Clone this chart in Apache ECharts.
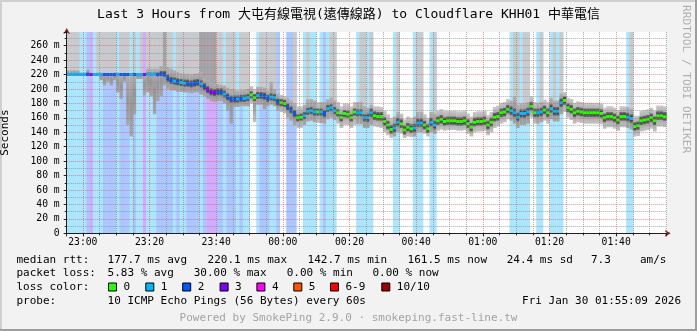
<!DOCTYPE html>
<html><head><meta charset="utf-8">
<script src="https://cdn.jsdelivr.net/npm/echarts@6/dist/echarts.min.js"></script>
<style>html,body{margin:0;padding:0;background:#f2f2f2}#c{width:697px;height:331px}</style>
</head><body><div id="c"></div>
<script>
// ---- data (x in minutes after 22:00, one column per minute starting 22:55) ----
const startMin = 55 + 9/60;      // 22:55:09
const endMin = startMin + 180;   // 01:55:09
const firstColumnMin = 55;       // 22:55
const yMax = 279;

const lossCount = [
 1,1,1,1,1,1,2,3,1,1,1,2,2,2,2,1,2,2,2,1,2,1,1,3,1,1,1,2,2,2,
 2,2,1,2,1,1,2,2,2,2,1,2,3,3,3,2,2,1,2,2,2,1,2,1,1,0,0,1,2,2,
 2,1,1,2,0,0,2,2,2,0,0,1,1,1,1,0,1,2,1,1,1,0,0,0,0,0,0,1,1,1,
 1,1,0,0,0,0,0,0,1,1,0,0,0,0,1,1,1,0,0,1,1,0,0,0,0,0,0,0,0,0,
 0,0,0,0,0,0,0,0,0,0,0,0,0,1,1,1,1,1,1,0,0,1,1,0,0,1,1,1,1,0,
 0,0,0,0,0,0,0,0,0,0,0,0,0,0,0,0,0,0,1,1,0,0,0,0,0,0,0,0,0,0];

const medianMs = [
 220.1,220.1,220.0,220.1,220.0,220.1,220.1,220.0,220.0,220.1,220.1,220.0,220.0,220.1,220.0,220.0,220.1,220.0,220.0,220.1,220.0,220.0,220.0,220.1,220.0,220.1,220.0,219.9,220.0,219.5,
 215,212,211,210,209,208,208,207,208,209,207,203,199,196,195,196,196,193,189,186,186,186,187,187,188,192,188,191,191,190,
 187,189,188,182,181,180,175,171,166,160,161,163,169,170,168,168,168,166,173,174,170,167,160,166,165,160,168,167,167,160,
 160,167,163,162,162,155,150,144,146,154,152,143,147,145,146,153,153,150,145,154,150,156,158,155,156,156,156,155,155,156,
 152,147,154,155,155,156,150,154,161,162,167,168,172,170,167,161,166,166,168,176,167,167,168,171,167,173,169,169,181,184,
 174,172,167,169,168,167,167,167,167,167,166,160,162,162,160,157,162,162,161,159,148,149,156,157,158,160,156,163,163,161.5];

// fastest and slowest ping of each minute
const smokeLow = [
 218,218,218,218,218,218,218,218,218,218,212,205,210,205,212,195,186,210,150,134,165,214,214,191,195,190,165,183,190,205,
 200,198,198,196,196,195,195,194,195,195,192,190,186,183,182,183,183,180,170,152,175,175,176,176,176,180,154,178,178,172,
 176,178,176,170,168,166,160,156,150,146,146,150,155,156,154,153,153,152,158,160,157,152,146,150,150,146,150,151,151,146,
 146,150,148,147,146,140,136,132,134,140,138,132,134,133,134,140,140,138,134,140,138,142,144,142,143,143,143,142,142,143,
 138,134,140,141,141,142,136,140,146,148,152,154,158,156,152,146,150,150,152,160,152,152,154,156,152,158,155,155,165,168,
 160,157,152,154,153,152,152,152,152,152,151,145,147,147,145,142,147,147,146,144,134,135,141,142,143,145,141,148,148,147];

const smokeHigh = [
 226,226,226,226,223,223,227,222,222,223,223,221,221,221,223,223,221,221,221,221,221,221,221,221,228,228,228,228,232,232,
 230,228,226,224,222,221,221,220,221,222,224,215,212,210,208,207,206,205,202,200,199,198,199,199,200,204,200,203,203,202,
 198,210,200,194,192,190,188,184,180,176,176,178,186,186,184,182,182,182,186,188,184,182,176,180,180,176,182,182,182,176,
 174,178,176,176,175,170,165,160,162,168,166,158,162,160,162,168,168,165,160,168,166,170,172,170,170,170,170,169,169,170,
 166,162,168,169,169,170,164,168,175,177,181,182,186,184,190,178,180,180,182,190,182,181,182,185,182,188,184,184,194,196,
 188,186,181,183,182,181,181,181,181,181,180,174,176,176,174,171,176,176,175,173,163,163,170,171,172,174,170,177,177,176];

// 3rd fastest and 3rd slowest ping of each minute
const innerLow = [
 218.5,218.5,218.4,218.5,218.4,218.5,218.5,218.4,218.4,218.5,218.5,218.4,218.2,218.5,218.4,218.4,218.5,218.4,218.4,218.5,218.4,218.4,218.4,218.5,218.4,218.5,218.4,218.2,218.3,217.5,
 210,207,206,205,204,203,203,202,203,204,202,198,194,191,190,191,191,188,184,181,181,181,182,182,183,187,183,186,186,185,
 182,184,183,177,176,175,170,166,161,155,156,158,164,165,163,163,163,161,168,169,165,162,155,161,160,155,163,162,162,155,
 154,161,157,156,156,149,144,138,140,148,146,137,141,139,140,147,147,144,139,148,144,150,152,149,150,150,150,149,149,150,
 146,141,148,149,149,150,144,148,155,156,161,162,166,164,161,155,160,160,162,170,161,161,162,165,161,167,163,163,175,178,
 168,166,161,163,162,161,161,161,161,161,160,154,156,156,154,151,156,156,155,153,142,143,150,151,152,154,150,157,157,156];

const innerHigh = [
 222,222,221.8,222,221.8,222,223,221.8,221.8,222,222,221.8,221.8,222,221.8,221.8,222,221.8,221.8,222,221.8,221.8,221.8,222,223,223,223,223,225,225,
 220,217,216,215,214,213,213,212,213,214,212,208,204,201,200,201,201,198,194,191,191,191,192,192,193,197,193,196,196,195,
 192,194,193,187,186,185,180,176,171,165,166,168,174,175,173,173,173,171,178,179,175,172,165,171,170,165,173,172,172,165,
 166,173,169,168,168,161,156,150,152,160,158,149,153,151,152,159,159,156,151,160,156,162,164,161,162,162,162,161,161,162,
 158,153,160,161,161,162,156,160,167,168,173,174,178,176,173,167,172,172,174,182,173,173,174,177,173,179,175,175,187,190,
 180,178,173,175,174,173,173,173,173,173,172,166,168,168,166,163,168,168,167,165,154,155,162,163,164,166,162,169,169,168];

// pings above the graph ceiling (smoke reaching the top): 0 none, 1..3 shade level
const slowToTop = [
 1,1,1,1,0,0,0,0,0,1,1,1,1,1,1,0,1,1,1,0,1,0,1,0,1,1,1,1,1,2,
 1,1,0,1,1,1,1,1,1,1,2,2,2,2,2,1,1,0,1,1,1,0,1,1,1,0,0,0,1,1,
 1,1,1,0,0,0,0,0,1,0,0,0,1,0,0,0,0,0,0,1,1,0,0,0,0,0,0,0,1,1,
 0,1,0,0,0,0,0,0,0,1,0,0,0,0,0,1,1,0,0,0,1,0,0,0,0,0,0,0,0,0,
 0,0,0,0,0,0,0,0,0,0,0,0,0,0,1,1,0,1,1,0,0,0,1,0,0,0,1,0,1,0,
 0,0,0,0,0,0,0,0,0,0,0,0,0,0,0,0,0,0,0,1,0,0,0,0,0,0,0,0,0,0];

const lossLegend = ['0','1','2','3','4','5','6-9','10/10'];
const lossLegendColors = ['#26ff00','#00b8ff','#0059ff','#7e00ff','#ff00ff','#ff5500','#ff0000','#a10000'];
const statLine1 = [['median rtt:',16.4],['177.7 ms avg',107.6],['220.1 ms max',207.6],['142.7 ms min',307.6],['161.5 ms now',407.6],['24.4 ms sd',506.7],['7.3',591],['am/s',640]];
const statLine2 = [['packet loss:',16.4],['5.83 % avg',107.6],['30.00 % max',193.7],['0.00 % min',286.7],['0.00 % now',372.4]];

// ---- styling ----
const MONO = "'DejaVu Sans Mono','Noto Sans CJK TC',monospace";
function lossLineColor(n){ if(n===0) return '#26ff00'; if(n<=5) return lossLegendColors[n]; if(n<10) return '#ff0000'; return '#a10000'; }
function lossBgColor(n){
  const c = lossLineColor(n);
  const r=parseInt(c.substr(1,2),16), g=parseInt(c.substr(3,2),16), b=parseInt(c.substr(5,2),16);
  const a=0.335, mix=v=>Math.round(255-(255-v)*a);
  return 'rgb('+mix(r)+','+mix(g)+','+mix(b)+')';
}
const slowShade = [null,'#cacaca','#a4a4a4','#8a8a8a'];

const rows = medianMs.map((m,i)=>[firstColumnMin+i, firstColumnMin+i+1, m, smokeLow[i], smokeHigh[i], innerLow[i], innerHigh[i], lossCount[i], slowToTop[i]]);

const outerFill = new echarts.graphic.LinearGradient(0,0,0,1,[{offset:0,color:'#cacaca'},{offset:0.5,color:'#9c9c9c'},{offset:1,color:'#c4c4c4'}]);
const outerFillLoss = new echarts.graphic.LinearGradient(0,0,0,1,[{offset:0,color:'#b0b0b0'},{offset:0.5,color:'#959595'},{offset:1,color:'#a6a6a6'}]);
const innerUp = new echarts.graphic.LinearGradient(0,0,0,1,[{offset:0,color:'#747474'},{offset:0.5,color:'#4a4a4a'},{offset:1,color:'#303030'}]);
const innerDown = new echarts.graphic.LinearGradient(0,0,0,1,[{offset:0,color:'#303030'},{offset:0.5,color:'#4a4a4a'},{offset:1,color:'#747474'}]);

function renderColumn(params, api){
  const t0 = Math.max(api.value(0), startMin), t1 = Math.min(api.value(1), endMin);
  if(t1<=t0) return null;
  const med=api.value(2), lo=api.value(3), hi=api.value(4), ilo=api.value(5), ihi=api.value(6), loss=api.value(7), slow=api.value(8);
  const a = api.coord([t0, yMax]), b = api.coord([t1, 0]);
  const x=a[0], w=b[0]-a[0]+0.45, yTop=a[1], yBase=b[1];
  const Y=v=>api.coord([t0,v])[1];
  const yMed=Y(med), yLo=Y(lo), yHi=Y(hi), yIlo=Y(ilo), yIhi=Y(ihi);
  const kids=[];
  if(loss>0) kids.push({type:'rect',shape:{x,y:yTop,width:w,height:yBase-yTop},style:{fill:lossBgColor(loss)}});
  if(slow>0) kids.push({type:'rect',shape:{x,y:yTop,width:w,height:yMed-yTop},style:{fill:slowShade[slow]}});
  kids.push({type:'rect',shape:{x,y:yHi,width:w,height:yLo-yHi},style:{fill: loss>0 ? outerFillLoss : outerFill}});
  if(yMed>yIhi) kids.push({type:'rect',shape:{x,y:yIhi,width:w,height:yMed-yIhi},style:{fill:innerUp}});
  if(yIlo>yMed) kids.push({type:'rect',shape:{x,y:yMed,width:w,height:yIlo-yMed},style:{fill:innerDown}});
  kids.push({type:'rect',shape:{x,y:yMed-1.5,width:w,height:3},style:{fill:lossLineColor(loss)}});
  return {type:'group',children:kids};
}

function fmtTime(v){
  const tot = Math.round(v);
  const h=(22+Math.floor(tot/60))%24, m=tot%60;
  return (h<10?'0':'')+h+':'+(m<10?'0':'')+m;
}

const gridColor='rgba(143,143,143,0.75)', mgridColor='rgba(222,79,79,0.6)';
const txt=(t,x,y,extra)=>({type:'text',silent:true,style:Object.assign({text:t,x,y,font:'11px '+MONO,fill:'#000',align:'left',verticalAlign:'middle',textAlign:'left',textVerticalAlign:'middle'},extra||{})});

const graphics=[];
graphics.push({type:'rect',silent:true,shape:{x:0,y:0,width:697,height:2},style:{fill:'#cfcfcf'}});
graphics.push({type:'rect',silent:true,shape:{x:0,y:0,width:2,height:331},style:{fill:'#cfcfcf'}});
graphics.push({type:'rect',silent:true,shape:{x:695,y:0,width:2,height:331},style:{fill:'#9e9e9e'}});
graphics.push({type:'rect',silent:true,shape:{x:0,y:329,width:697,height:2},style:{fill:'#9e9e9e'}});
graphics.push(txt('Last 3 Hours from 大屯有線電視(遠傳線路) to Cloudflare KHH01 中華電信',348.5,15,{font:'13px '+MONO,align:'center',textAlign:'center'}));
graphics.push({type:'text',silent:true,x:686,y:5,rotation:-Math.PI/2,style:{text:'RRDTOOL / TOBI OETIKER',x:0,y:0,font:'11.2px '+MONO,fill:'rgba(0,0,0,0.28)',align:'left',verticalAlign:'middle',textAlign:'left',textVerticalAlign:'middle'}});
statLine1.forEach(([t,x])=>graphics.push(txt(t,x,259.7)));
statLine2.forEach(([t,x])=>graphics.push(txt(t,x,273.3)));
graphics.push(txt('loss color:',16.4,287.3));
lossLegend.forEach((t,i)=>{
  const bx=[108,145.3,182.2,219.6,256.4,293.3,330,381.3][i];
  graphics.push({type:'rect',silent:true,shape:{x:bx+0.5,y:283,width:8,height:8},style:{fill:lossLegendColors[i],stroke:'#000',lineWidth:1}});
  graphics.push(txt(t,bx+15.5,287.3));
});
graphics.push(txt('probe:',16.4,301));
graphics.push(txt('10 ICMP Echo Pings (56 Bytes) every 60s',107.6,301));
graphics.push(txt('Fri Jan 30 01:55:09 2026',681,301,{align:'right',textAlign:'right'}));
graphics.push(txt('Powered by SmokePing 2.9.0 · smokeping.fast-line.tw',348.5,317.7,{align:'center',textAlign:'center',fill:'#a3a3a3'}));

const arrowAxis = {axisLine:{show:true, onZero:false, lineStyle:{color:'#801f1f',width:1}, symbol:['none','arrow'], symbolSize:[5,6], symbolOffset:[0,4]},
  axisTick:{show:false}, axisLabel:{show:false}, splitLine:{show:false}};

const chart = echarts.init(document.getElementById('c'), null, {renderer:'canvas', width:697, height:331});
chart.setOption({
  animation:false,
  backgroundColor:'#f2f2f2',
  grid:{left:66.7, top:32, width:600, height:201.3, show:true, backgroundColor:'#ffffff', borderWidth:0, containLabel:false, outerBoundsMode:'none'},
  xAxis:[{type:'value', min:startMin, max:endMin, minInterval:20, maxInterval:20, z:10, position:'bottom',
    axisLine:{show:true, onZero:false, lineStyle:{color:'#1f1f1f',width:1}},
    axisTick:{show:true, length:3, lineStyle:{color:'#1f1f1f'}},
    minorTick:{show:true, splitNumber:4, length:2, lineStyle:{color:'#1f1f1f'}},
    axisLabel:{formatter:fmtTime, showMinLabel:false, showMaxLabel:false, margin:4, fontFamily:MONO, fontSize:9.7, color:'#000'},
    splitLine:{show:true, showMinLine:false, showMaxLine:false, lineStyle:{color:mgridColor, width:1, type:[1,1]}},
    minorSplitLine:{show:true, lineStyle:{color:gridColor, width:1, type:[1,1]}}
  }, Object.assign({type:'value', min:startMin, max:endMin, position:'bottom', offset:0, z:9}, arrowAxis)],
  yAxis:[{type:'value', min:0, max:yMax, minInterval:20, maxInterval:20, z:10, position:'left',
    axisLine:{show:true, onZero:false, lineStyle:{color:'#1f1f1f',width:1}},
    axisTick:{show:true, length:3, lineStyle:{color:'#1f1f1f'}},
    minorTick:{show:true, splitNumber:2, length:2, lineStyle:{color:'#1f1f1f'}},
    axisLabel:{formatter:v=>v===0?'0':v+' m', showMaxLabel:false, margin:7, fontFamily:MONO, fontSize:9.7, color:'#000'},
    splitLine:{show:true, showMinLine:false, showMaxLine:false, lineStyle:{color:mgridColor, width:1, type:[1,1]}},
    minorSplitLine:{show:true, lineStyle:{color:gridColor, width:1, type:[1,1]}},
    name:'Seconds', nameLocation:'middle', nameGap:56, nameRotate:90, nameTextStyle:{fontFamily:MONO, fontSize:11, color:'#000'}
  }, Object.assign({type:'value', min:0, max:yMax, position:'left', offset:0, z:9}, arrowAxis)],
  series:[{type:'custom', renderItem:renderColumn, data:rows, encode:{x:[0,1], y:[2,3,4]}, z:2, silent:true, clip:true}],
  graphic:graphics
});
</script></body></html>
